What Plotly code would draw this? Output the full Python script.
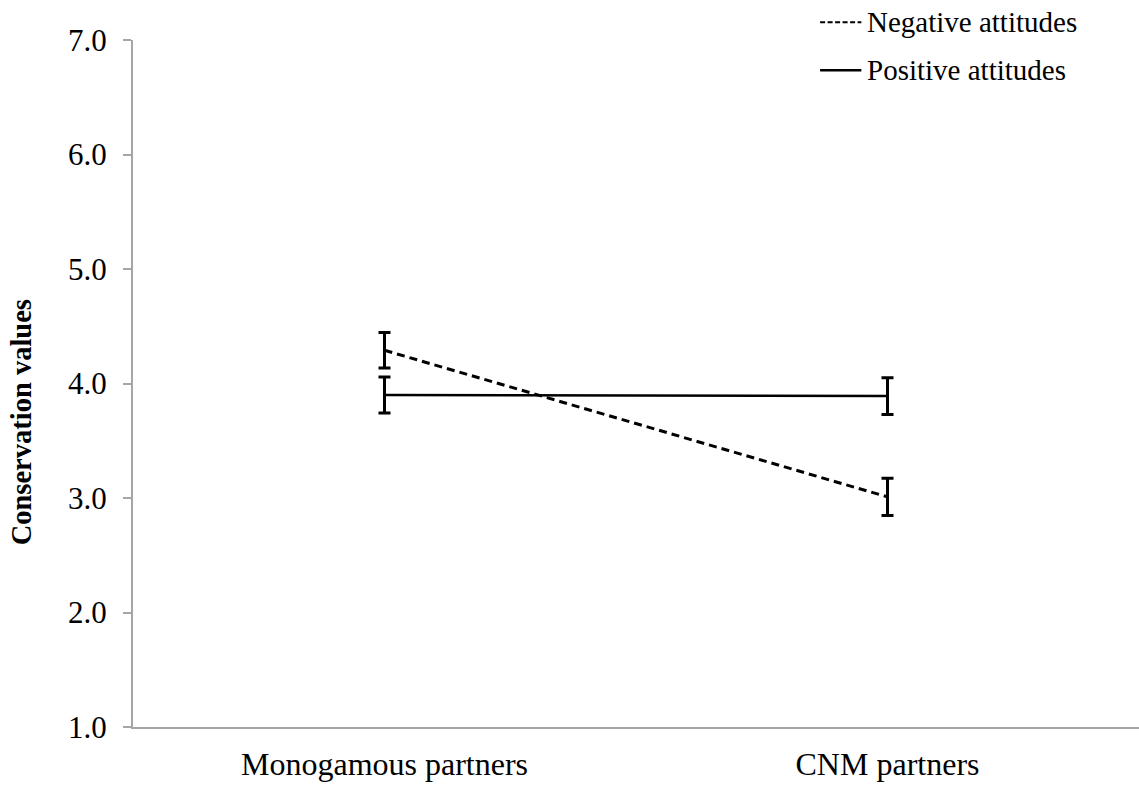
import plotly.graph_objects as go

# Partner type on the x axis
categories = ["Monogamous partners", "CNM partners"]

# Mean conservation values with standard errors, by attitude group
negative_means = [4.29, 3.01]
negative_errors = [0.155, 0.163]
positive_means = [3.90, 3.89]
positive_errors = [0.157, 0.16]

y_ticks = [1.0, 2.0, 3.0, 4.0, 5.0, 6.0, 7.0]

legend_labels = ["Negative attitudes", "Positive attitudes"]

SERIF = "Liberation Serif, Times New Roman, serif"
AXIS_GREY = "#a6a6a6"

fig = go.Figure()

fig.add_trace(go.Scatter(
    x=categories,
    y=negative_means,
    name=legend_labels[0],
    mode="lines",
    line=dict(color="black", width=3, dash="8px,5px"),
    error_y=dict(type="data", array=negative_errors, visible=True,
                 color="black", thickness=3, width=6),
))

fig.add_trace(go.Scatter(
    x=categories,
    y=positive_means,
    name=legend_labels[1],
    mode="lines",
    line=dict(color="black", width=2.5),
    error_y=dict(type="data", array=positive_errors, visible=True,
                 color="black", thickness=3, width=6),
))

# Key drawn in the top-right corner: line sample + label per series
key_rows = [
    (legend_labels[0], 1.026, dict(color="black", width=2, dash="5px,2.5px")),
    (legend_labels[1], 0.956, dict(color="black", width=2.5)),
]
annotations = []
for label, yk, line_style in key_rows:
    fig.add_shape(type="line", xref="paper", yref="paper",
                  x0=0.683, x1=0.724, y0=yk, y1=yk, line=line_style)
    annotations.append(dict(
        text=label, xref="paper", yref="paper", x=0.728, y=yk,
        xanchor="left", yanchor="middle", showarrow=False,
        font=dict(family=SERIF, size=29, color="black"),
    ))

annotations.append(dict(
    text="<b>Conservation values</b>",
    textangle=-90,
    xref="paper", yref="paper",
    x=-0.11, y=0.444,
    xanchor="center", yanchor="middle",
    showarrow=False,
    font=dict(family=SERIF, size=28.5, color="black"),
))

fig.update_layout(
    width=1139,
    height=785,
    margin=dict(l=133, r=0, t=40, b=58),
    paper_bgcolor="white",
    plot_bgcolor="white",
    font=dict(family=SERIF, color="black", size=28),
    showlegend=False,
    xaxis=dict(
        type="category",
        range=[-0.5, 1.5],
        showline=True,
        linecolor=AXIS_GREY,
        linewidth=2,
        ticks="",
        showgrid=False,
        zeroline=False,
        ticklabelstandoff=8,
        tickfont=dict(family=SERIF, size=32, color="black"),
    ),
    yaxis=dict(
        range=[1.0, 7.0],
        tickvals=y_ticks,
        tickformat=".1f",
        showline=True,
        linecolor=AXIS_GREY,
        linewidth=2,
        ticks="outside",
        ticklen=8,
        tickwidth=2,
        tickcolor=AXIS_GREY,
        showgrid=False,
        zeroline=False,
        ticklabelstandoff=10,
        tickfont=dict(family=SERIF, size=31, color="black"),
    ),
    annotations=annotations,
)

fig.write_html("out.html")
